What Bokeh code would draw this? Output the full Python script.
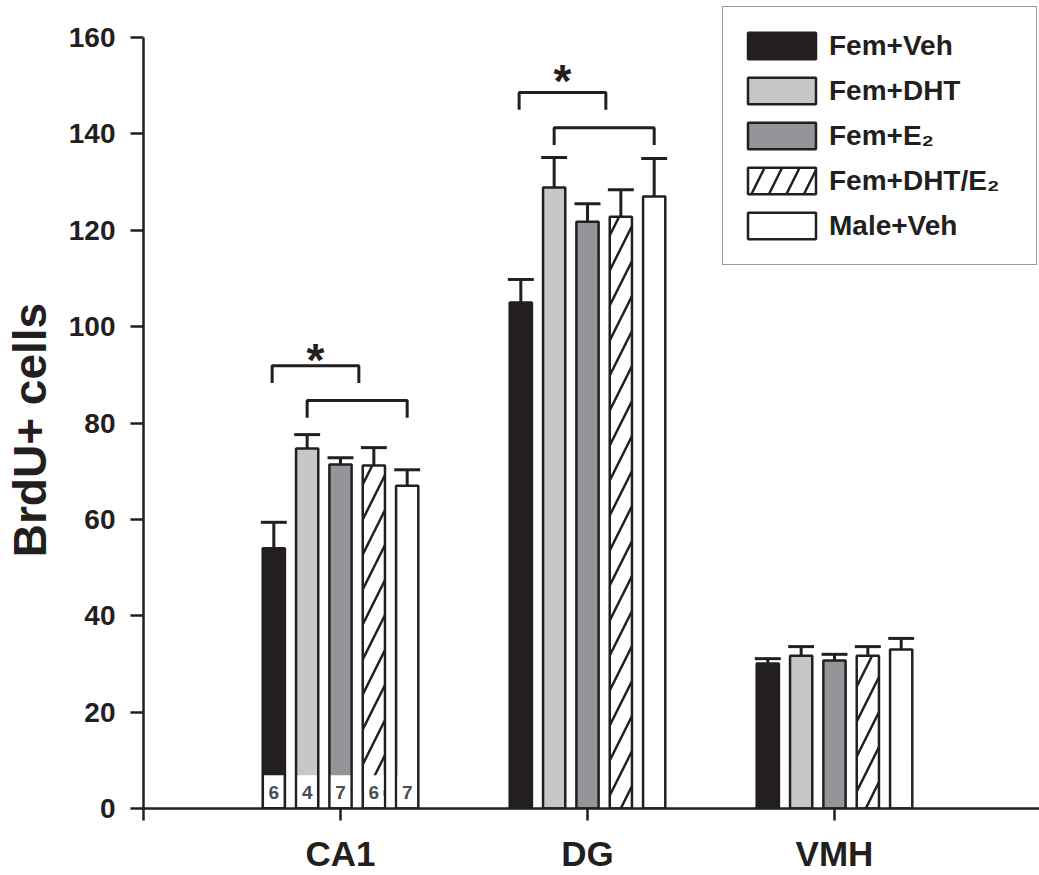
import numpy as np
from bokeh.plotting import figure
from bokeh.models import Range1d, FixedTicker, Legend, LegendItem
from bokeh.core.properties import value
from bokeh.embed import file_html
from bokeh.resources import INLINE

# ---------------- data ----------------
regions = ["CA1", "DG", "VMH"]
groups = ["Fem+Veh", "Fem+DHT", "Fem+E\u2082", "Fem+DHT/E\u2082", "Male+Veh"]

fem_veh = [54.0, 105.0, 30.1]
fem_veh_sem = [5.4, 4.8, 1.0]
fem_dht = [74.7, 128.9, 31.7]
fem_dht_sem = [2.9, 6.2, 1.9]
fem_e2 = [71.4, 121.8, 30.7]
fem_e2_sem = [1.4, 3.7, 1.3]
fem_dht_e2 = [71.2, 122.8, 31.7]
fem_dht_e2_sem = [3.7, 5.6, 1.9]
male_veh = [67.0, 127.0, 33.0]
male_veh_sem = [3.3, 7.9, 2.3]

n_ca1 = ["6", "4", "7", "6", "7"]

# significance brackets (region, from bar index, to bar index, height)
bracket_region = ["CA1", "CA1", "DG", "DG"]
bracket_from = [-2.05, -1.0, -2.05, -1.0]
bracket_to = [0.55, 2.0, 0.55, 2.0]
bracket_top = [91.9, 84.7, 148.6, 141.3]
star_region = ["CA1", "DG"]
star_y = [93.0, 150.9]

y_ticks = [0, 20, 40, 60, 80, 100, 120, 140, 160]
y_title = "BrdU+ cells"

# ---------------- styling ----------------
FONT = "Liberation Sans"
INK = "#231f20"
pitch = 0.135
bar_w = 0.09
cap_w = 0.105
leg = 3.6

cat_x = {r: i + 1 for i, r in enumerate(regions)}
xc = np.array([cat_x[r] for r in regions], dtype=float)

series = [
    (fem_veh, fem_veh_sem, dict(fill_color=INK)),
    (fem_dht, fem_dht_sem, dict(fill_color="#c6c7c9")),
    (fem_e2, fem_e2_sem, dict(fill_color="#939598")),
    (fem_dht_e2, fem_dht_e2_sem, dict(fill_color="white", hatch_pattern="/",
                                      hatch_color=INK, hatch_weight=2.5, hatch_scale=35)),
    (male_veh, male_veh_sem, dict(fill_color="white")),
]

p = figure(width=1039, height=875, output_backend="svg", toolbar_location=None,
           x_range=Range1d(0.2024, 3.83), y_range=Range1d(0, 167.7),
           min_border_left=143, min_border_right=0, min_border_top=0,
           min_border_bottom=67)
p.outline_line_color = None
p.xgrid.visible = False
p.ygrid.visible = False
p.background_fill_color = "white"

renderers = []
for k, (vals, sems, style) in enumerate(series):
    off = (k - 2) * pitch
    xs = xc + off
    r = p.vbar(x=xs, top=vals, bottom=0, width=bar_w, line_color=INK,
               line_width=2.5, **style)
    renderers.append(r)

# n boxes under CA1 bars
ca1_x = cat_x["CA1"] + (np.arange(5) - 2) * pitch
p.vbar(x=ca1_x, top=6.9, bottom=0.3, width=bar_w - 0.011, fill_color="white",
       line_color=None)
p.text(x=ca1_x, y=[3.4] * 5, text=n_ca1, text_align="center",
       text_baseline="middle", text_font=value(FONT), text_font_style="bold",
       text_font_size="19px", text_color="#4d4d4d")

# error bars (upper only)
for k, (vals, sems, style) in enumerate(series):
    off = (k - 2) * pitch
    xs = xc + off
    tops = np.array(vals) + np.array(sems)
    p.segment(x0=xs, y0=vals, x1=xs, y1=tops, line_color=INK, line_width=3)
    p.segment(x0=xs - cap_w / 2, y0=tops, x1=xs + cap_w / 2, y1=tops,
              line_color=INK, line_width=3)

# brackets
bxs, bys = [], []
for reg, f, t, top in zip(bracket_region, bracket_from, bracket_to, bracket_top):
    x0 = cat_x[reg] + f * pitch
    x1 = cat_x[reg] + t * pitch
    bxs.append([x0, x0, x1, x1])
    bys.append([top - leg, top, top, top - leg])
p.multi_line(xs=bxs, ys=bys, line_color=INK, line_width=3)

sx = [cat_x[r] + (bracket_from[0] + bracket_to[0]) / 2 * pitch for r in star_region]
p.text(x=sx, y=star_y, text=["*"] * len(sx), text_align="center",
       text_baseline="middle", text_font=value(FONT), text_font_style="bold",
       text_font_size="46px", text_color=INK)

# axes
for ax in (p.xaxis[0], p.yaxis[0]):
    ax.axis_line_color = INK
    ax.axis_line_width = 2.5
    ax.major_tick_line_color = INK
    ax.major_tick_line_width = 2.5
    ax.minor_tick_line_color = None
    ax.major_tick_in = 0
    ax.major_label_text_font = FONT
    ax.major_label_text_font_style = "bold"
    ax.major_label_text_color = INK

p.yaxis.bounds = (0, 160)
p.yaxis.ticker = FixedTicker(ticks=y_ticks)
p.yaxis.major_tick_out = 13
p.yaxis.major_label_standoff = 15
p.yaxis.major_label_text_font_size = "28px"
# trailing no-break spaces nudge the centred title down to the 0-160 span
p.yaxis.axis_label = y_title + "\u00a0" * 4
p.yaxis.axis_label_text_font = FONT
p.yaxis.axis_label_text_font_style = "bold"
p.yaxis.axis_label_text_font_size = "46px"
p.yaxis.axis_label_text_color = INK
p.yaxis.axis_label_standoff = 10

p.xaxis.ticker = FixedTicker(ticks=[0.2024] + list(xc))
p.xaxis.major_label_overrides = {0.2024: ""} | {float(cat_x[r]): r for r in regions}
p.xaxis.major_tick_out = 12
p.xaxis.major_label_standoff = 13
p.xaxis.major_label_text_font_size = "35px"

# legend
items = [LegendItem(label=g, renderers=[r]) for g, r in zip(groups, renderers)]
legend = Legend(items=items, location=(579, 543), margin=0, padding=16,
                spacing=0, glyph_width=85, glyph_height=33, label_standoff=5,
                label_height=45, label_width=191,
                label_text_font=FONT, label_text_font_style="bold",
                label_text_font_size="28px", label_text_color=INK,
                border_line_color="#333333", border_line_width=1.5,
                background_fill_color="white", background_fill_alpha=1.0)
p.add_layout(legend)

open("out.html", "w").write(file_html(p, INLINE))
